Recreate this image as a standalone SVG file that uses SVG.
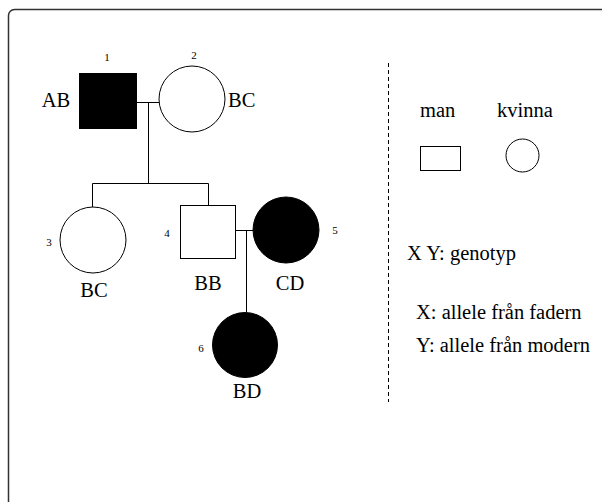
<svg xmlns="http://www.w3.org/2000/svg" width="602" height="502" viewBox="0 0 602 502">
<style>
.lbl{font-size:20.5px;font-family:'Liberation Serif','Times New Roman',serif;fill:#000}
.num{font-size:11px;font-family:'Liberation Serif','Times New Roman',serif;fill:#000}
.line{stroke:#000;stroke-width:1;fill:none}
.open{fill:#fff;stroke:#000;stroke-width:1}
.aff{fill:#000;stroke:#000;stroke-width:1}
</style>
<rect width="602" height="502" fill="#fff"/>
<rect x="8.5" y="9.5" width="620" height="520" rx="6" fill="none" stroke="#333" stroke-width="1.5"/>
<g id="connectors">
<path class="line" d="M137 102.5H159"/>
<path class="line" d="M148.5 102.5V183.5"/>
<path class="line" d="M92.5 183.5H208.5"/>
<path class="line" d="M92.5 183.5V207"/>
<path class="line" d="M208.5 183.5V205"/>
<path class="line" d="M236 230.5H253"/>
<path class="line" d="M246.5 230.5V312"/>
</g>
<g id="node1">
<rect class="aff" x="79.5" y="73.5" width="57" height="55"/>
<text class="num" x="107" y="61" text-anchor="middle">1</text>
<text class="lbl" x="56" y="107" text-anchor="middle">AB</text>
</g>
<g id="node2">
<circle class="open" cx="192" cy="99" r="33"/>
<text class="num" x="194" y="59" text-anchor="middle">2</text>
<text class="lbl" x="228" y="107">BC</text>
</g>
<g id="node3">
<circle class="open" cx="93" cy="240" r="33"/>
<text class="num" x="49" y="246" text-anchor="middle">3</text>
<text class="lbl" x="94" y="297" text-anchor="middle">BC</text>
</g>
<g id="node4">
<rect class="open" x="180.5" y="205.5" width="55" height="53"/>
<text class="num" x="167" y="237" text-anchor="middle">4</text>
<text class="lbl" x="208" y="290" text-anchor="middle">BB</text>
</g>
<g id="node5">
<circle class="aff" cx="286" cy="230" r="33"/>
<text class="num" x="335" y="234" text-anchor="middle">5</text>
<text class="lbl" x="290" y="290" text-anchor="middle">CD</text>
</g>
<g id="node6">
<circle class="aff" cx="245" cy="345" r="32.5"/>
<text class="num" x="201" y="352" text-anchor="middle">6</text>
<text class="lbl" x="247" y="398" text-anchor="middle">BD</text>
</g>
<g id="legend">
<path d="M388.5 63V402" stroke="#000" stroke-width="1" stroke-dasharray="4 3" fill="none"/>
<text class="lbl" x="420" y="117">man</text>
<text class="lbl" x="497" y="117">kvinna</text>
<rect class="open" x="420.5" y="146.5" width="40" height="24"/>
<circle class="open" cx="522.5" cy="155.5" r="16.5"/>
<text class="lbl" x="407" y="260">X Y: genotyp</text>
<text class="lbl" x="416" y="319">X: allele från fadern</text>
<text class="lbl" x="416" y="352">Y: allele från modern</text>
</g>
</svg>
